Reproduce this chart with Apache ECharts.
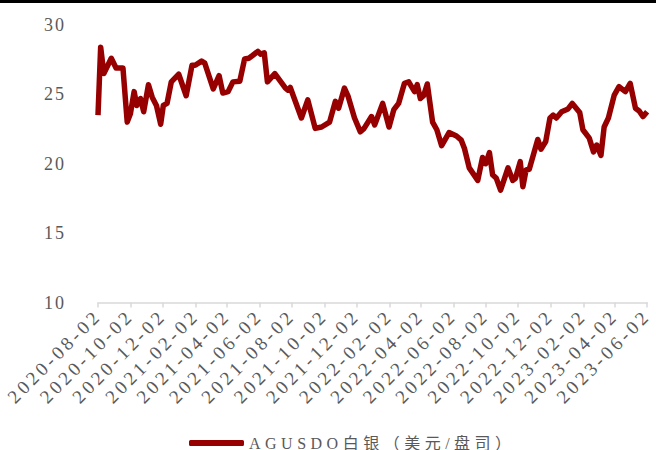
<!DOCTYPE html>
<html>
<head>
<meta charset="utf-8">
<script src="https://cdn.jsdelivr.net/npm/echarts@6/dist/echarts.min.js"></script>
<style>
html,body{margin:0;padding:0;background:#fff;}
#chart{width:656px;height:450px;}
#chart text{letter-spacing:2px;}
#chart text[style*="19px"]{letter-spacing:3.5px;}
#chart text[style*="16px"]{letter-spacing:4.5px;}
</style>
</head>
<body>
<div id="chart"></div>
<script>
const seriesName = 'AGUSDO白银（美元/盘司）';
const tickDates = ['2020-08-02','2020-10-02','2020-12-02','2021-02-02','2021-04-02','2021-06-02','2021-08-02','2021-10-02','2021-12-02','2022-02-02','2022-04-02','2022-06-02','2022-08-02','2022-10-02','2022-12-02','2023-02-02','2023-04-02','2023-06-02'];
const dates = [
'2020-08-02','2020-08-07','2020-08-13','2020-08-27','2020-09-05','2020-09-18','2020-09-26','2020-10-02','2020-10-09','2020-10-14','2020-10-21','2020-10-27','2020-11-05','2020-11-12','2020-11-20','2020-11-28','2020-12-03','2020-12-10','2020-12-18','2020-12-23',
'2021-01-01','2021-01-15','2021-01-26','2021-02-01','2021-02-13','2021-02-19','2021-03-07','2021-03-18','2021-03-25','2021-04-04','2021-04-13','2021-04-26','2021-05-05','2021-05-13','2021-05-20','2021-05-30','2021-06-04','2021-06-11','2021-06-17','2021-07-01','2021-07-21','2021-07-26','2021-07-30','2021-08-20','2021-09-01','2021-09-15','2021-09-27','2021-10-12','2021-10-23','2021-10-29','2021-11-09','2021-11-16','2021-11-28','2021-12-09','2021-12-16','2021-12-30',
'2022-01-05','2022-01-20','2022-02-01','2022-02-10','2022-02-19','2022-03-02','2022-03-10','2022-03-21','2022-03-26','2022-04-01','2022-04-07','2022-04-14','2022-04-24','2022-05-02','2022-05-11','2022-05-25','2022-06-08','2022-06-17','2022-06-23','2022-07-02','2022-07-18','2022-07-27','2022-08-02','2022-08-09','2022-08-15','2022-08-22','2022-08-30','2022-09-13','2022-09-22','2022-09-27','2022-10-06','2022-10-11','2022-10-17','2022-10-23','2022-11-08','2022-11-14','2022-11-23','2022-12-01','2022-12-07','2022-12-13','2022-12-23',
'2023-01-04','2023-01-12','2023-01-26','2023-02-01','2023-02-13','2023-02-21','2023-02-27','2023-03-07','2023-03-13','2023-03-21','2023-04-01','2023-04-10','2023-04-22','2023-05-01','2023-05-11','2023-05-18','2023-05-25','2023-06-02'
];
const values = [
23.5,28.4,26.5,27.6,26.9,26.9,23.0,23.6,25.2,24.2,24.7,23.75,25.7,24.8,24.2,22.85,24.2,24.35,25.9,26.1,
26.45,24.9,27.1,27.1,27.4,27.25,25.4,26.35,25.1,25.2,25.9,25.95,27.55,27.6,27.8,28.1,27.9,28.0,25.9,26.5,25.45,25.3,25.5,23.3,24.6,22.55,22.65,23.0,24.5,24.0,25.45,24.85,23.3,22.3,22.55,23.4,
22.8,24.35,22.65,23.9,24.35,25.8,25.9,25.2,25.7,24.7,24.9,25.75,23.0,22.45,21.3,22.25,22.0,21.7,21.1,19.7,18.8,20.45,20.0,20.8,19.2,18.95,18.1,19.7,18.8,18.95,20.15,18.35,19.55,19.6,21.75,21.05,21.6,23.3,23.5,23.3,23.75,
23.95,24.35,23.7,22.45,21.85,20.85,21.35,20.6,22.65,23.3,24.95,25.55,25.2,25.8,24.0,23.8,23.4,23.75
];
const yMin = 10, yMax = 30, yStep = 5;

function ts(d){ return Date.UTC(+d.slice(0, 4), +d.slice(5, 7) - 1, +d.slice(8, 10)); }
function fmt(v){
  const d = new Date(v);
  const p = n => (n < 10 ? '0' : '') + n;
  return d.getUTCFullYear() + '-' + p(d.getUTCMonth() + 1) + '-' + p(d.getUTCDate());
}
const tickTs = tickDates.map(ts);

const chart = echarts.init(document.getElementById('chart'), null, {renderer: 'svg'});
chart.setOption({
  animation: false,
  backgroundColor: '#fff',
  graphic: [{type: 'rect', shape: {x: 0, y: 0, width: 656, height: 3}, style: {fill: '#000'}}],
  grid: {left: 98, right: 1, top: 25, bottom: 147.5, containLabel: false},
  legend: {
    data: [seriesName], left: 184, top: 430,
    icon: 'roundRect', itemWidth: 55, itemHeight: 6, itemGap: 4,
    textStyle: {fontFamily: 'Liberation Serif, Noto Sans CJK SC', fontSize: 16, color: '#595959'}
  },
  xAxis: {
    type: 'value', min: tickTs[0], max: tickTs[tickTs.length - 1],
    axisLine: {show: true, onZero: false, lineStyle: {color: '#d9d9d9', width: 1.5}},
    axisTick: {show: true, customValues: tickTs, length: 5, lineStyle: {color: '#d9d9d9', width: 1.5}},
    axisLabel: {customValues: tickTs, formatter: fmt, rotate: 45, margin: 10,
      fontFamily: 'Liberation Serif', fontSize: 19, color: '#595959'},
    splitLine: {show: false}
  },
  yAxis: {
    type: 'value', min: yMin, max: yMax, interval: yStep,
    axisLine: {show: false}, axisTick: {show: false}, splitLine: {show: false},
    axisLabel: {margin: 32, fontFamily: 'Liberation Serif', fontSize: 18, color: '#595959'}
  },
  series: [{
    name: seriesName, type: 'line', showSymbol: false, symbol: 'none',
    data: dates.map((d, i) => [ts(d), values[i]]),
    lineStyle: {color: '#960000', width: 5.5, join: 'round'},
    itemStyle: {color: '#960000'}
  }]
});
</script>
</body>
</html>
